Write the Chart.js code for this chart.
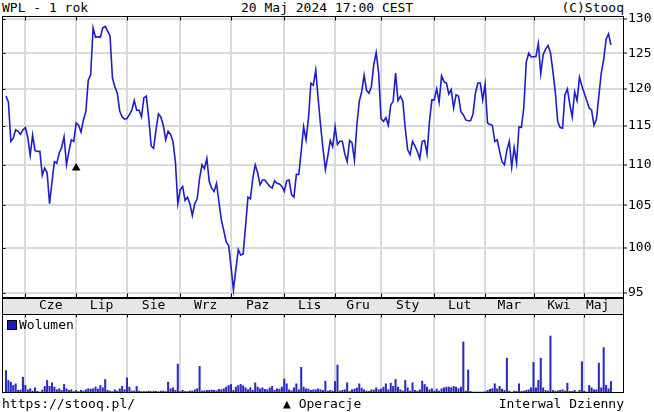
<!DOCTYPE html>
<html>
<head>
<meta charset="utf-8">
<script src="https://cdn.jsdelivr.net/npm/chart.js@4.4.1/dist/chart.umd.min.js"></script>
<style>
  html, body { margin: 0; padding: 0; background: #fff; }
  #wrap { position: relative; width: 654px; height: 412px; overflow: hidden; font: 13px "DejaVu Sans Mono", monospace; color: #000; }
  .txt { position: absolute; line-height: 16px; white-space: pre; }
  canvas { position: absolute; left: 0; }
  .sq { display: inline-block; width: 8px; height: 8px; background: #1a1ac0; border: 1px solid #000; vertical-align: -1px; margin-right: 2px; }
</style>
</head>
<body>
<div id="wrap">
  <div class="txt" style="left:2px;top:0">WPL - 1 rok</div>
  <div class="txt" style="left:241px;top:0">20 Maj 2024 17:00 CEST</div>
  <div class="txt" style="right:30px;top:0">(C)Stooq</div>
  <canvas id="price" width="654" height="300" style="top:0"></canvas>
  <canvas id="vol" width="654" height="100" style="top:298px"></canvas>
  <div class="txt" style="left:7px;top:317px"><span class="sq"></span>Wolumen</div>
  <div class="txt" style="left:2px;top:396px">https://stooq.pl/</div>
  <div class="txt" style="left:283px;top:396px">▲ Operacje</div>
  <div class="txt" style="right:30px;top:396px">Interwal Dzienny</div>
</div>
<script>
// months (first trading day index of each month, session count from 22 May 2023)
const months      = ['Cze', 'Lip', 'Sie', 'Wrz', 'Paz', 'Lis', 'Gru', 'Sty', 'Lut', 'Mar', 'Kwi', 'Maj'];
const monthStarts = [8, 29, 50, 72, 93, 115, 136, 155, 177, 198, 218, 239];
const priceTicks  = [95, 100, 105, 110, 115, 120, 125, 130];

// daily close
const prices = [
  119.0, 118.2, 113.0, 113.4, 114.5, 114.3, 113.9, 114.5, 114.8, 113.5,
  111.2, 113.8, 111.8, 111.7, 111.7, 108.7, 109.6, 109.0, 105.2, 107.8,
  110.4, 110.2, 111.5, 112.2, 113.6, 110.0, 111.7, 113.2, 113.0, 115.4,
  115.1, 114.2, 115.8, 116.9, 121.2, 122.0, 128.7, 127.3, 127.4, 127.3,
  128.7, 128.9, 128.2, 127.5, 121.5, 120.3, 119.4, 117.0, 116.2, 115.9,
  116.0, 116.5, 117.1, 118.4, 117.1, 117.1, 116.2, 118.8, 119.0, 116.0,
  112.4, 112.1, 114.5, 116.6, 116.2, 115.1, 113.2, 114.3, 113.9, 113.0,
  110.4, 105.2, 106.9, 107.3, 105.6, 106.0, 105.2, 103.8, 105.2, 105.8,
  108.3, 110.0, 109.5, 110.8, 107.9, 107.1, 106.7, 107.7, 105.4, 103.3,
  102.0, 100.7, 100.3, 97.9, 95.3, 97.6, 99.8, 99.2, 99.3, 102.5,
  106.0, 105.8, 108.3, 110.0, 109.0, 107.5, 108.1, 108.1, 107.7, 107.3,
  107.1, 108.0, 107.7, 107.6, 107.3, 106.7, 108.0, 108.1, 106.3, 106.0,
  108.8, 108.8, 111.7, 114.9, 113.2, 116.0, 120.8, 120.5, 122.6, 118.7,
  115.1, 112.1, 109.4, 111.1, 113.1, 112.3, 114.9, 112.6, 113.0, 113.0,
  111.4, 110.4, 113.1, 112.8, 110.6, 115.1, 118.3, 119.6, 121.9, 119.8,
  119.4, 120.3, 123.4, 125.1, 122.2, 116.0, 115.6, 116.1, 115.1, 117.8,
  118.3, 122.2, 118.4, 119.0, 118.3, 114.7, 111.9, 111.3, 113.0, 112.4,
  111.7, 110.8, 113.0, 113.1, 111.4, 115.6, 118.5, 118.5, 120.0, 118.2,
  121.8, 121.0, 120.8, 119.3, 119.9, 117.4, 119.2, 119.0, 116.9, 116.5,
  115.8, 115.7, 115.7, 116.6, 119.4, 120.8, 120.8, 118.5, 120.6, 115.4,
  115.2, 115.1, 113.0, 113.2, 111.7, 110.4, 110.0, 111.9, 113.0, 109.7,
  112.2, 110.2, 114.9, 114.8, 117.5, 123.7, 125.0, 124.5, 124.5, 124.5,
  126.4, 122.1, 124.8, 125.6, 126.1, 125.1, 122.5, 119.6, 115.6, 114.8,
  114.7, 119.2, 120.0, 117.9, 116.2, 119.6, 118.4, 121.6, 120.4, 119.4,
  118.4, 117.4, 117.1, 115.1, 115.9, 119.0, 122.2, 124.1, 127.0, 127.8,
  126.2
];

// daily volume (thousands of shares)
const volumes = [
  227, 127, 110, 77, 93, 27, 30, 160, 77, 33,
  43, 20, 53, 17, 10, 30, 67, 127, 67, 103,
  60, 33, 43, 27, 87, 43, 27, 33, 15, 25,
  15, 27, 20, 33, 43, 40, 43, 60, 40, 77,
  53, 137, 27, 20, 15, 33, 20, 43, 67, 33,
  153, 60, 20, 20, 67, 20, 15, 15, 15, 20,
  15, 20, 17, 13, 20, 20, 15, 110, 43, 53,
  27, 293, 15, 27, 15, 15, 20, 20, 33, 43,
  270, 20, 23, 27, 27, 30, 27, 23, 37, 33,
  43, 60, 77, 87, 27, 60, 77, 87, 73, 53,
  33, 53, 27, 103, 60, 43, 53, 37, 33, 53,
  67, 27, 43, 40, 60, 143, 93, 33, 23, 53,
  93, 33, 260, 60, 43, 40, 27, 33, 33, 43,
  33, 27, 120, 20, 27, 20, 117, 283, 20, 27,
  33, 103, 17, 33, 40, 50, 93, 50, 33, 20,
  17, 33, 30, 53, 33, 40, 60, 93, 33, 100,
  67, 137, 60, 33, 20, 127, 53, 20, 103, 27,
  20, 33, 120, 87, 60, 33, 43, 20, 40, 20,
  43, 53, 60, 60, 53, 67, 60, 43, 60, 517,
  20, 233, 17, 10, 10, 10, 10, 10, 13, 27,
  37, 43, 93, 43, 67, 40, 27, 353, 20, 10,
  20, 17, 93, 17, 20, 27, 33, 53, 310, 53,
  127, 353, 53, 27, 20, 577, 27, 17, 23, 27,
  33, 20, 100, 17, 17, 27, 10, 27, 317, 20,
  10, 77, 53, 33, 33, 303, 53, 460, 77, 43,
  117
];

// transaction markers
const opsDays   = [29];
const opsLevels = [109.6];

const lastDay = prices.length - 1;
const xMin = -1.65, xMax = 255.4;
const monoFont = { family: 'DejaVu Sans Mono', size: 13 };
const gridGray = '#dadada';

// no extra room for labels that stick out past the plot edges
function noPad(s) {
  s.paddingTop = 0; s.paddingBottom = 0;
  s.paddingLeft = 0; s.paddingRight = 0;
}

// black frame round the plot area, with small month ticks on its edges
const framePlugin = {
  id: 'frame',
  afterDraw(chart, args, opts) {
    const { ctx, chartArea: a } = chart;
    const l = Math.round(a.left) + 0.5, r = Math.round(a.right) - 0.5;
    const t = Math.round(a.top) + 0.5, b = Math.round(a.bottom) - 0.5;
    ctx.save();
    ctx.strokeStyle = '#000';
    ctx.lineWidth = 1;
    ctx.strokeRect(l, t, r - l, b - t);
    ctx.beginPath();
    const xs = chart.scales.x;
    monthStarts.forEach(m => {
      const px = Math.round(xs.getPixelForValue(m)) + 0.5;
      if (opts.top) { ctx.moveTo(px, t); ctx.lineTo(px, t + opts.top); }
      if (opts.bottom) { ctx.moveTo(px, b); ctx.lineTo(px, b - opts.bottom); }
    });
    if (opts.left) {
      const ys = chart.scales.y;
      priceTicks.forEach(v => {
        const py = Math.round(ys.getPixelForValue(v)) + 0.5;
        ctx.moveTo(l, py); ctx.lineTo(l + opts.left, py);
      });
    }
    ctx.stroke();
    ctx.restore();
  }
};

// grey strip holding the month names
const stripPlugin = {
  id: 'strip',
  beforeDraw(chart) {
    const { ctx, chartArea: a } = chart;
    const s = chart.scales.xm;
    const l = Math.round(a.left) + 0.5, r = Math.round(a.right) - 0.5;
    const t = Math.round(s.top) + 0.5, b = Math.round(s.bottom) + 0.5;
    ctx.save();
    ctx.fillStyle = '#e6e6e6';
    ctx.fillRect(l, t, r - l, b - t);
    ctx.strokeStyle = '#000';
    ctx.lineWidth = 1;
    ctx.strokeRect(l, t, r - l, b - t);
    ctx.restore();
  }
};

new Chart(document.getElementById('price'), {
  type: 'line',
  data: {
    datasets: [
      {
        data: prices.map((v, i) => ({ x: i, y: v })),
        borderColor: '#1e1ec8',
        borderWidth: 1.6,
        pointRadius: 0,
        tension: 0
      },
      {
        data: opsDays.map((d, i) => ({ x: d, y: opsLevels[i] })),
        showLine: false,
        pointStyle: 'triangle',
        pointRadius: 5,
        backgroundColor: '#000',
        borderColor: '#000',
        borderWidth: 0
      }
    ]
  },
  options: {
    responsive: false,
    animation: false,
    devicePixelRatio: 1,
    layout: { autoPadding: false, padding: { left: 2, top: 16, right: 0, bottom: 2 } },
    plugins: { legend: { display: false }, tooltip: { enabled: false }, frame: { top: 4, bottom: 4, left: 3 } },
    scales: {
      x: {
        type: 'linear', min: xMin, max: xMax,
        afterBuildTicks: s => { s.ticks = monthStarts.map(v => ({ value: v })); },
        ticks: { display: false },
        grid: { color: gridGray, lineWidth: 2, drawTicks: false },
        border: { display: false },
        afterFit: s => { s.height = 0; noPad(s); }
      },
      y: {
        type: 'logarithmic', position: 'right',
        min: 94.43, max: 130.45,
        afterBuildTicks: s => { s.ticks = priceTicks.map(v => ({ value: v })); },
        ticks: { font: monoFont, color: '#000', padding: 1, callback: v => String(v) },
        grid: { color: gridGray, lineWidth: 2, tickLength: 3, tickColor: '#000', tickWidth: 1 },
        border: { display: false },
        afterFit: s => { s.width = 30; noPad(s); }
      }
    }
  },
  plugins: [framePlugin]
});

new Chart(document.getElementById('vol'), {
  type: 'bar',
  data: {
    datasets: [{
      data: volumes.map((v, i) => ({ x: i, y: v })),
      backgroundColor: '#2a2ac4',
      barThickness: 1.4
    }]
  },
  options: {
    responsive: false,
    animation: false,
    devicePixelRatio: 1,
    layout: { autoPadding: false, padding: { left: 2, top: 0, right: 30, bottom: 5 } },
    plugins: { legend: { display: false }, tooltip: { enabled: false }, frame: { top: 3 } },
    scales: {
      x: {
        type: 'linear', min: xMin, max: xMax, offset: false,
        afterBuildTicks: s => { s.ticks = monthStarts.map(v => ({ value: v })); },
        ticks: { display: false },
        grid: { color: gridGray, lineWidth: 2, drawTicks: false, offset: false },
        border: { display: false },
        afterFit: s => { s.height = 0; noPad(s); }
      },
      xm: {
        type: 'linear', position: 'top', min: xMin, max: xMax, offset: false,
        afterBuildTicks: s => {
          s.ticks = monthStarts.map((m, i) => ({ value: (m + (monthStarts[i + 1] ?? lastDay)) / 2 }));
        },
        ticks: { font: monoFont, color: '#000', padding: 1, autoSkip: false, maxRotation: 0, callback: (v, i) => months[i] },
        grid: { display: false, drawTicks: false },
        border: { display: false },
        afterFit: s => { s.height = 16; noPad(s); }
      },
      y: { display: false, min: 0, max: 800 }
    }
  },
  plugins: [stripPlugin, framePlugin]
});
</script>
</body>
</html>
